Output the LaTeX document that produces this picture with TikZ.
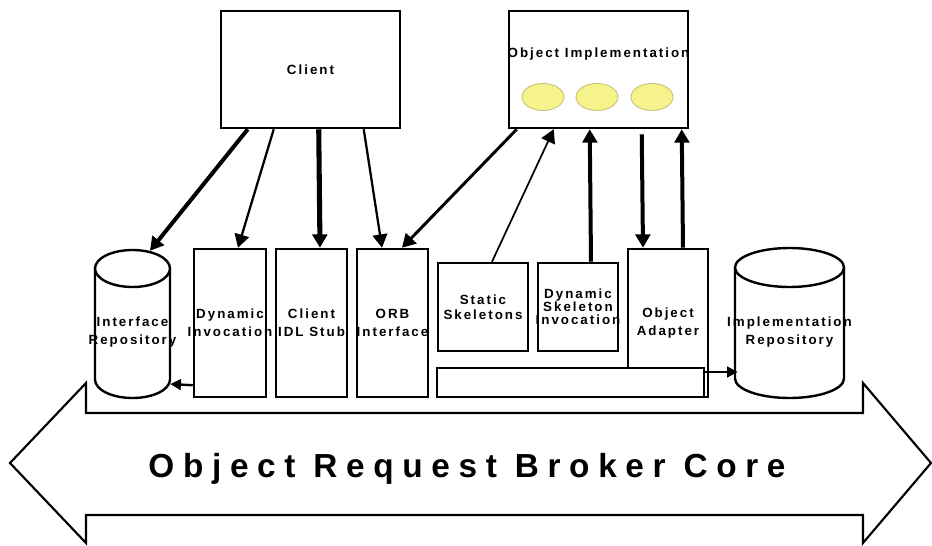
\documentclass[tikz,border=0pt]{standalone}
\usepackage{fontspec}
\setmainfont{Liberation Sans}
\newfontfamily\lblfont{Liberation Sans}[LetterSpace=15]
\newfontfamily\corefont{Liberation Sans}[LetterSpace=26]
\usetikzlibrary{arrows.meta,calc}

\definecolor{beanfill}{RGB}{247,243,140}
\definecolor{beanedge}{RGB}{200,196,120}

\begin{document}
\begin{tikzpicture}[x=0.75pt,y=-0.75pt,
  lbl/.style={font=\lblfont\bfseries\fontsize{10pt}{13.5pt}\selectfont, align=center, inner sep=0pt},
  box/.style={draw, line width=1.9pt, fill=white, rectangle, inner sep=0pt},
  region/.style={rectangle, inner sep=0pt},
  cyl/.style={draw, line width=1.8pt, fill=white},
  conn/.style={-{Triangle[length=10pt,width=11pt]}},
  sconn/.style={-{Triangle[length=8pt,width=8pt]}, line width=1.8pt},
  bean/.style={fill=beanfill, draw=beanedge, line width=0.7pt},
  coreline/.style={draw, line width=1.6pt, line join=miter, fill=white}
]
\useasboundingbox (0,0) rectangle (932,546);

% ORB core band
\draw[coreline] (86,413) -- (86,383) -- (10,463) -- (86,543) -- (86,515)
  -- (863,515) -- (863,543) -- (931,463) -- (863,383) -- (863,413) -- cycle;
\node[anchor=base, inner sep=0pt, font=\corefont\bfseries\fontsize{25pt}{30pt}\selectfont]
  (core) at (467,477) {Object Request Broker Core};

% top level boxes
\node[box, minimum width=134.25pt, minimum height=87.75pt,
  label={[lbl]center:Client}] (client) at (310.5,69.5) {};
\node[box, minimum width=134.25pt, minimum height=87.75pt] (oimpl) at (598.5,69.5) {};
\node[lbl, anchor=center] (oimpltext) at (598.5,54) {Object Implementation};
\foreach \cx in {543,597,652}{
  \draw[bean] (\cx,97) ellipse (21 and 13.5);
}

% interface repository (cylinder)
\node[region, minimum width=56.25pt, minimum height=111pt] (irepo) at (132.5,324) {};
\draw[cyl] (95,268.5) -- (95,379.5) arc[start angle=180, end angle=0, x radius=37.5, y radius=18.5]
  -- (170,268.5);
\draw[cyl] (132.5,268.5) ellipse (37.5 and 18.5);
\node[lbl] (irepotext) at (132.5,332.5) {Interface\\Repository};

% implementation repository (cylinder)
\node[region, minimum width=81.75pt, minimum height=112.5pt] (implrepo) at (789.5,323) {};
\draw[cyl] (735,267.5) -- (735,378.5) arc[start angle=180, end angle=0, x radius=54.5, y radius=19.5]
  -- (844,267.5);
\draw[cyl] (789.5,267.5) ellipse (54.5 and 19.5);
\node[lbl] (implrepotext) at (789.5,332.5) {Implementation\\Repository};

% client side stubs
\node[box, minimum width=54pt, minimum height=111pt,
  label={[lbl]center:Dynamic\\Invocation}] (dyninv) at (230,323) {};
\node[box, minimum width=53.25pt, minimum height=111pt,
  label={[lbl]center:Client\\IDL Stub}] (idlstub) at (311.5,323) {};
\node[box, minimum width=53.25pt, minimum height=111pt,
  label={[lbl]center:ORB\\Interface}] (orbif) at (392.5,323) {};

% server side
\node[box, minimum width=67.5pt, minimum height=66pt,
  label={[lbl, font=\lblfont\bfseries\fontsize{10pt}{11.25pt}\selectfont]center:Static\\Skeletons}]
  (static) at (483,307) {};
\node[box, minimum width=60pt, minimum height=66pt,
  label={[lbl, font=\lblfont\bfseries\fontsize{10pt}{9.75pt}\selectfont]center:Dynamic\\Skeleton\\Invocation}]
  (dsi) at (578,307) {};
\node[box, minimum width=60pt, minimum height=111pt,
  label={[lbl]center:Object\\Adapter}] (adapter) at (668,323) {};
\node[box, minimum width=200.25pt, minimum height=21.75pt] (bar) at (570.5,382.5) {};

% client connectors
\draw[conn, line width=3pt] ($(client.south west)+(28,0)$) -- ($(irepo.north)+(17.5,1)$);
\draw[conn, line width=1.7pt] ($(client.south west)+(54,0)$) -- ($(dyninv.north)+(8,0)$);
\draw[conn, line width=3.8pt] ($(client.south west)+(99,0)$) -- ($(idlstub.north)+(8.5,0)$);
\draw[conn, line width=1.7pt] ($(client.south west)+(144,0)$) -- ($(orbif.north)+(-10.5,0)$);

% object implementation connectors
\draw[conn, line width=2.2pt] ($(oimpl.south west)+(9,0)$) -- ($(orbif.north)+(9.5,0)$);
\draw[conn, line width=1.3pt] ($(static.north)+(9,0)$) -- ($(oimpl.south west)+(46,0)$);
\draw[conn, line width=3pt] ($(dsi.north)+(13,0)$) -- ($(oimpl.south west)+(82,0)$);
\draw[conn, line width=3pt] ($(oimpl.south west)+(134,5)$) -- ($(adapter.north)+(-25,0)$);
\draw[conn, line width=3pt] ($(adapter.north)+(15,0)$) -- ($(oimpl.south west)+(174,0)$);

% repository lookups
\draw[sconn] ($(dyninv.south west)+(0,-13)$) -- ($(irepo.east)+(0,60)$);
\draw[sconn] ($(bar.east)+(0,-10.5)$) -- ($(implrepo.west)+(3,49)$);
\end{tikzpicture}
\end{document}
